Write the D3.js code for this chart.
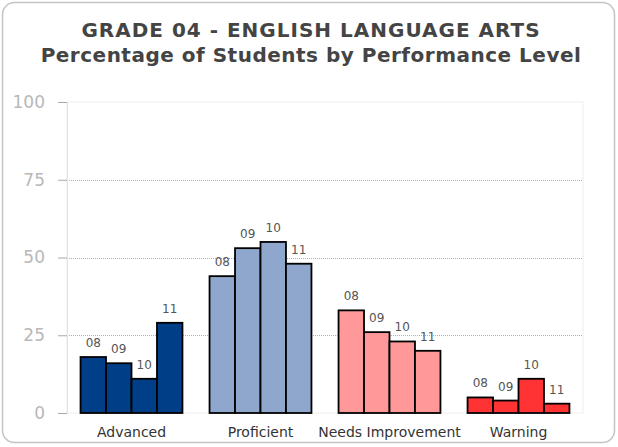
<!DOCTYPE html>
<html>
<head>
<meta charset="utf-8">
<script src="https://cdn.jsdelivr.net/npm/d3@7"></script>
<style>
  html, body { margin: 0; padding: 0; background: #fff; }
  svg { display: block; font-family: "DejaVu Sans", Verdana, sans-serif; }
</style>
</head>
<body>
<svg id="chart" width="618" height="447"></svg>
<script>
// --- données ---
const categories = ["Advanced", "Proficient", "Needs Improvement", "Warning"];
const years = ["08", "09", "10", "11"];
const advanced = [18, 16, 11, 29];
const proficient = [44, 53, 55, 48];
const needsImprovement = [33, 26, 23, 20];
const warning = [5, 4, 11, 3];
const yTicks = [0, 25, 50, 75, 100];
const titleLines = ["GRADE 04 - ENGLISH LANGUAGE ARTS", "Percentage of Students by Performance Level"];

const seriesByCategory = [advanced, proficient, needsImprovement, warning];
const colors = ["#003f87", "#8fa7cd", "#ff9899", "#ff3333"];

const svg = d3.select("#chart");
const width = 618, height = 447;
const plot = { left: 67, right: 583, top: 102, bottom: 413 };

// cadre arrondi
svg.append("rect")
  .attr("x", 2.5).attr("y", 2.5)
  .attr("width", width - 6).attr("height", height - 7)
  .attr("rx", 12).attr("ry", 12)
  .attr("fill", "#fff")
  .attr("stroke", "#c4c4c4")
  .attr("stroke-width", 1.5);

// titre
svg.append("g").selectAll("text")
  .data(titleLines)
  .join("text")
  .attr("x", 311)
  .attr("y", (d, i) => 37 + i * 25)
  .attr("text-anchor", "middle")
  .attr("font-size", 20)
  .attr("font-weight", "bold")
  .attr("letter-spacing", (d, i) => i === 0 ? 1 : 0.5)
  .attr("fill", "#444")
  .text(d => d);

// --- échelles ---
const x = d3.scaleBand()
  .domain(categories)
  .range([plot.left, plot.right])
  .paddingInner(0.21)
  .paddingOuter(0.105);

const xYear = d3.scaleBand()
  .domain(years)
  .range([0, x.bandwidth()]);

const y = d3.scaleLinear()
  .domain([0, 100])
  .range([plot.bottom, plot.top]);

// zone du graphique
svg.append("rect")
  .attr("x", plot.left).attr("y", plot.top)
  .attr("width", plot.right - plot.left)
  .attr("height", plot.bottom - plot.top)
  .attr("fill", "none")
  .attr("stroke", "#eeeeee");

// grille pointillée
svg.append("g").selectAll("line")
  .data(yTicks.filter(d => d > 0 && d < 100))
  .join("line")
  .attr("x1", plot.left).attr("x2", plot.right)
  .attr("y1", d => Math.round(y(d)) + 0.5)
  .attr("y2", d => Math.round(y(d)) + 0.5)
  .attr("stroke", "#b0b0b0")
  .attr("stroke-dasharray", "1,1");

// axe Y
const yAxis = d3.axisLeft(y)
  .tickValues(yTicks)
  .tickSize(9)
  .tickPadding(13);

const yAxisG = svg.append("g")
  .attr("transform", `translate(${plot.left},0)`)
  .call(yAxis);
yAxisG.select(".domain").attr("stroke", "#e2e2e2");
yAxisG.selectAll(".tick line").attr("stroke", "#a8a8a8");
yAxisG.selectAll(".tick text")
  .attr("font-family", "DejaVu Sans, Verdana, sans-serif")
  .attr("font-size", 17)
  .attr("fill", "#b8b8b8");

// --- barres ---
const groups = svg.append("g").selectAll("g")
  .data(categories)
  .join("g")
  .attr("transform", d => `translate(${x(d)},0)`);

groups.each(function (cat, ci) {
  const values = seriesByCategory[ci];
  const g = d3.select(this);
  const rows = years.map((yr, i) => ({ year: yr, value: values[i] }));

  g.selectAll("rect")
    .data(rows)
    .join("rect")
    .attr("x", d => xYear(d.year))
    .attr("y", d => y(d.value))
    .attr("width", xYear.bandwidth())
    .attr("height", d => y(0) - y(d.value))
    .attr("fill", colors[ci])
    .attr("stroke", "#000")
    .attr("stroke-width", 1.8);

  g.selectAll("text")
    .data(rows)
    .join("text")
    .attr("x", d => xYear(d.year) + xYear.bandwidth() / 2)
    .attr("y", d => y(d.value) - 10)
    .attr("text-anchor", "middle")
    .attr("font-size", 12)
    .attr("fill", "#555")
    .text(d => d.year);
});

// étiquettes des catégories
svg.append("g").selectAll("text")
  .data(categories)
  .join("text")
  .attr("x", d => x(d) + x.bandwidth() / 2)
  .attr("y", 437)
  .attr("text-anchor", "middle")
  .attr("font-size", 14)
  .attr("fill", "#333")
  .text(d => d);
</script>
</body>
</html>
